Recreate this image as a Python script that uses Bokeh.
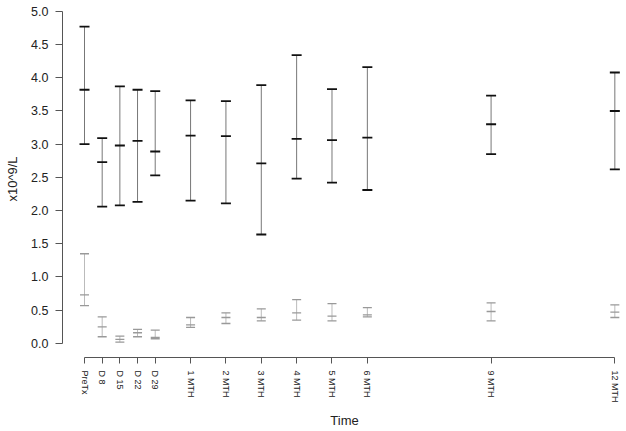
from bokeh.plotting import figure
from bokeh.models import Range1d, FixedTicker, ColumnDataSource
from bokeh.embed import file_html
from bokeh.resources import INLINE

# ---- data ----
time_labels = ["PreTx", "D 8", "D 15", "D 22", "D 29", "1 MTH", "2 MTH",
               "3 MTH", "4 MTH", "5 MTH", "6 MTH", "9 MTH", "12 MTH"]
time_pos = [0, 1, 2, 3, 4, 6, 8, 10, 12, 14, 16, 23, 30]

upper_high = [4.77, 3.09, 3.87, 3.82, 3.80, 3.66, 3.65, 3.89, 4.34, 3.83, 4.16, 3.73, 4.08]
upper_mid = [3.82, 2.73, 2.98, 3.05, 2.89, 3.13, 3.12, 2.71, 3.08, 3.06, 3.10, 3.30, 3.50]
upper_low = [3.00, 2.06, 2.08, 2.13, 2.53, 2.15, 2.11, 1.64, 2.48, 2.42, 2.31, 2.85, 2.62]

lower_high = [1.35, 0.40, 0.11, 0.21, 0.20, 0.39, 0.46, 0.52, 0.66, 0.60, 0.54, 0.61, 0.58]
lower_mid = [0.73, 0.25, 0.06, 0.16, 0.09, 0.28, 0.39, 0.39, 0.46, 0.41, 0.43, 0.48, 0.47]
lower_low = [0.57, 0.10, 0.02, 0.10, 0.07, 0.24, 0.30, 0.34, 0.35, 0.34, 0.40, 0.34, 0.39]

y_ticks = [0.0, 0.5, 1.0, 1.5, 2.0, 2.5, 3.0, 3.5, 4.0, 4.5, 5.0]

src = ColumnDataSource(dict(x=time_pos, uh=upper_high, um=upper_mid, ul=upper_low,
                            lh=lower_high, lm=lower_mid, ll=lower_low))

p = figure(width=626, height=431, output_backend="svg", toolbar_location=None,
           x_range=Range1d(-1.245, 30.66), y_range=Range1d(-0.2124, 5.164),
           min_border_left=62, min_border_right=0, min_border_top=0, min_border_bottom=74)
p.outline_line_color = None
p.grid.visible = False
p.background_fill_color = "white"
p.border_fill_color = "white"

# lower series (grey)
p.segment(x0="x", y0="ll", x1="x", y1="lh", line_color="#bbbbbb", line_width=1, source=src)
for col in ["ll", "lm", "lh"]:
    p.scatter("x", col, marker="dash", size=9, line_color="#999999", line_width=1.3, source=src)

# upper series (black)
p.segment(x0="x", y0="ul", x1="x", y1="uh", line_color="#777777", line_width=1, source=src)
for col in ["ul", "um", "uh"]:
    p.scatter("x", col, marker="dash", size=10, line_color="#111111", line_width=1.8, source=src)

# x axis
xa = p.xaxis[0]
xa.ticker = FixedTicker(ticks=time_pos)
xa.major_label_overrides = {t: l for t, l in zip(time_pos, time_labels)}
xa.bounds = (min(time_pos), max(time_pos))
xa.major_label_orientation = "vertical"
xa.minor_tick_line_color = None
xa.major_tick_in = 0
xa.major_tick_out = 6
xa.major_label_standoff = 7
xa.major_label_text_font = "Liberation Sans"
xa.major_label_text_font_size = "9px"
xa.major_label_text_color = "#222222"
xa.axis_line_color = "#555555"
xa.major_tick_line_color = "#555555"
xa.axis_label = "Time"
xa.axis_label_text_font = "Liberation Sans"
xa.axis_label_text_font_size = "13px"
xa.axis_label_text_font_style = "normal"
xa.axis_label_text_color = "#222222"
xa.axis_label_standoff = 7

# y axis
ya = p.yaxis[0]
ya.ticker = FixedTicker(ticks=y_ticks)
ya.major_label_overrides = {t: f"{t:.1f}" for t in y_ticks}
ya.bounds = (min(y_ticks), max(y_ticks))
ya.minor_tick_line_color = None
ya.major_tick_in = 0
ya.major_tick_out = 7
ya.major_label_standoff = 7
ya.major_label_text_font = "Liberation Sans"
ya.major_label_text_font_size = "12.5px"
ya.major_label_text_color = "#222222"
ya.axis_line_color = "#555555"
ya.major_tick_line_color = "#555555"
ya.axis_label = "x10^9/L"
ya.axis_label_text_font = "Liberation Sans"
ya.axis_label_text_font_size = "13px"
ya.axis_label_text_font_style = "normal"
ya.axis_label_text_color = "#222222"
ya.axis_label_standoff = 8

open("out.html", "w").write(file_html(p, INLINE))
